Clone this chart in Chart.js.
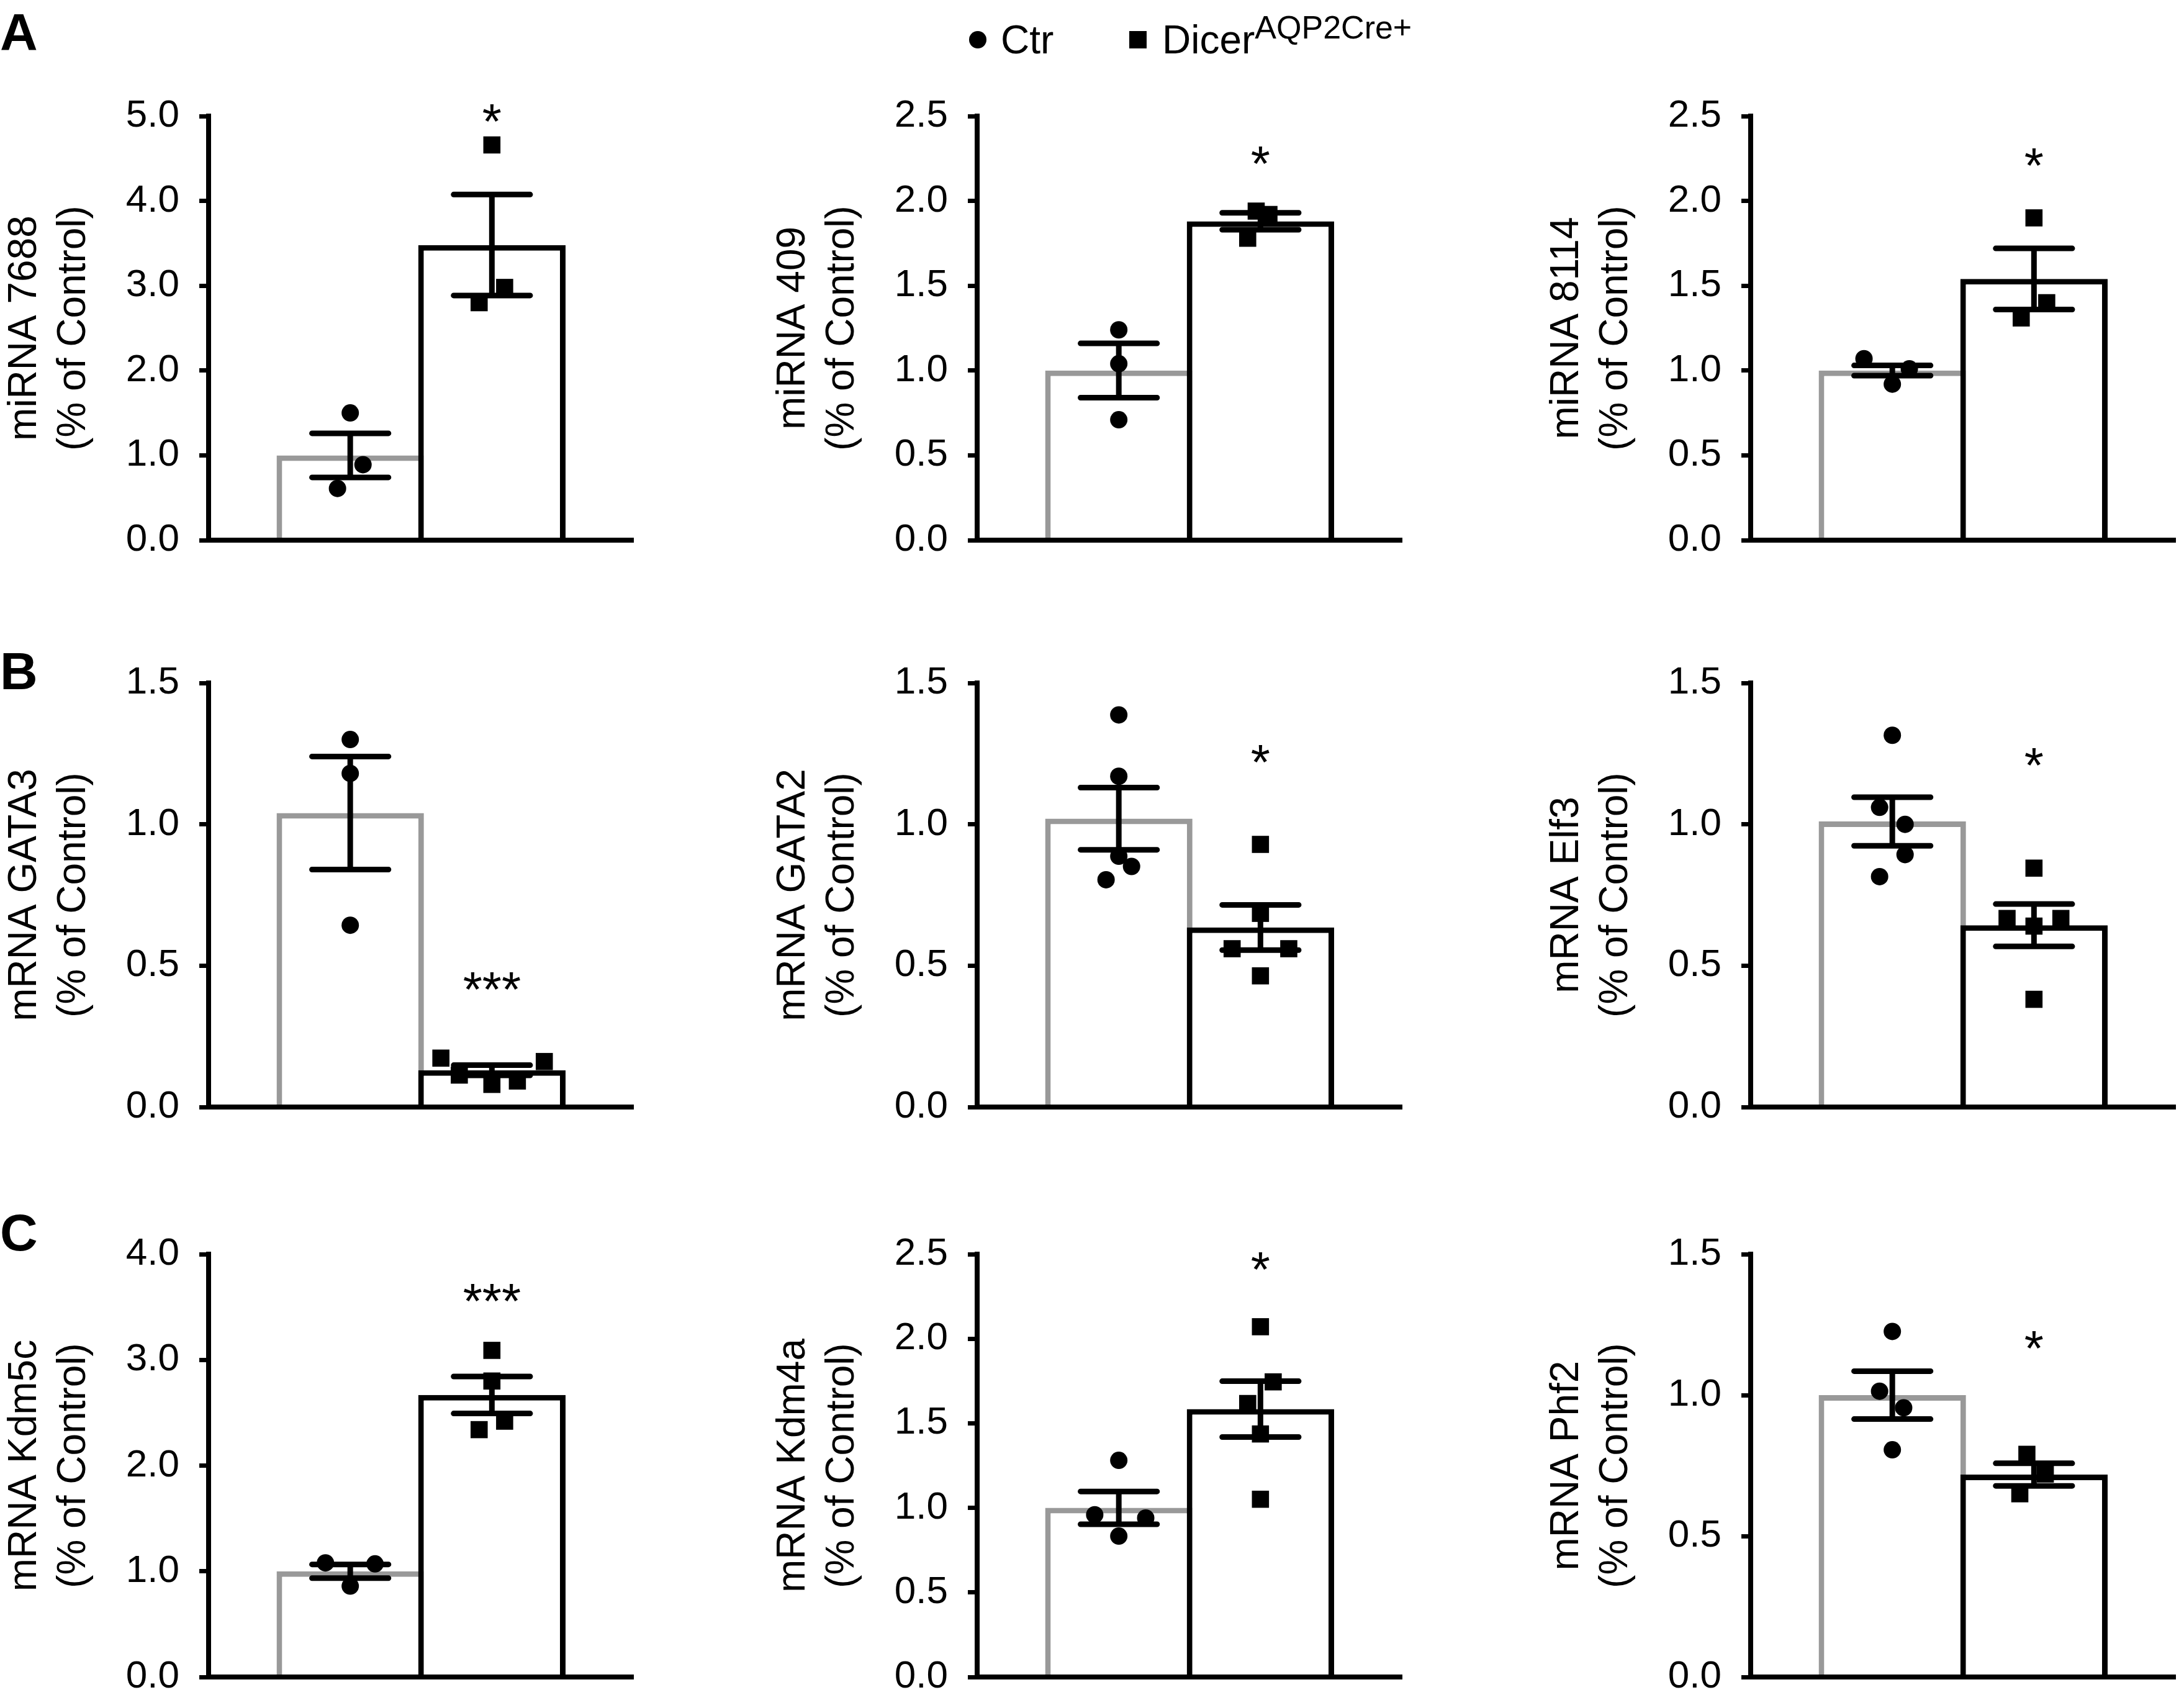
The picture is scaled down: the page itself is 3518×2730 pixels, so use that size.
<!DOCTYPE html>
<html>
<head>
<meta charset="utf-8">
<script src="https://cdn.jsdelivr.net/npm/chart.js@4.4.1/dist/chart.umd.min.js"></script>
<style>
  html, body { margin:0; padding:0; background:#fff; overflow:hidden; }
  body { width:3518px; height:2730px; position:relative; color:#000;
         font-family:'Liberation Sans', Arial, Helvetica, sans-serif; }
  canvas { position:absolute; }
  .letter { position:absolute; font-weight:bold; font-size:84px; line-height:84px; }
  .leg { position:absolute; font-size:64px; line-height:64px; white-space:nowrap; }
  .leg sup { font-size:52px; vertical-align:24px; line-height:0; }
  .mark { position:absolute; width:28px; height:28px; background:#000; }
</style>
</head>
<body>
<div class="letter" style="left:0;top:10px">A</div>
<div class="letter" style="left:0;top:1039px">B</div>
<div class="letter" style="left:0;top:1943px">C</div>

<div class="mark" style="left:1561px;top:50px;border-radius:50%"></div>
<div class="leg" style="left:1612px;top:32px">Ctr</div>
<div class="mark" style="left:1819px;top:50px"></div>
<div class="leg" style="left:1872px;top:32px">Dicer<sup>AQP2Cre+</sup></div>

<script>
// values, one entry per panel (A1..A3, B1..B3, C1..C3)
const panelNames = ['miRNA 7688', 'miRNA 409', 'miRNA 8114',
                    'mRNA GATA3', 'mRNA GATA2', 'mRNA Elf3',
                    'mRNA Kdm5c', 'mRNA Kdm4a', 'mRNA Phf2'];
const groups = ['Ctr', 'DicerAQP2Cre+'];
const yMax  = [5, 2.5, 2.5, 1.5, 1.5, 1.5, 4, 2.5, 1.5];
const yStep = [1, 0.5, 0.5, 0.5, 0.5, 0.5, 1, 0.5, 0.5];

const ctrMean   = [1.00, 1.00, 1.00, 1.04, 1.02, 1.01, 1.00, 1.00, 1.00];
const ctrSem    = [0.26, 0.16, 0.03, 0.20, 0.11, 0.086, 0.065, 0.097, 0.085];
const dicerMean = [3.48, 1.88, 1.54, 0.13, 0.635, 0.643, 2.668, 1.584, 0.718];
const dicerSem  = [0.595, 0.05, 0.18, 0.018, 0.08, 0.075, 0.175, 0.165, 0.04];

const ctrPoints = [
  [1.50, 0.89, 0.61], [1.24, 1.04, 0.71], [1.07, 1.01, 0.92],
  [1.30, 1.18, 0.643], [1.387, 1.17, 0.887, 0.851, 0.804], [1.315, 1.06, 1.0, 0.893, 0.815],
  [1.08, 1.07, 0.86], [1.281, 0.959, 0.94, 0.833], [1.226, 1.014, 0.955, 0.806]
];
const ctrJitter = [
  [0, 0.09, -0.09], [0, 0, 0], [-0.2, 0.12, 0],
  [0, 0, 0], [0, 0, 0, 0.09, -0.09], [0, -0.09, 0.09, 0.09, -0.09],
  [-0.175, 0.175, 0], [0, -0.17, 0.19, 0], [0, -0.09, 0.08, 0]
];
const dicerPoints = [
  [4.66, 2.98, 2.80], [1.94, 1.92, 1.78], [1.90, 1.40, 1.31],
  [0.173, 0.113, 0.08, 0.092, 0.161], [0.929, 0.685, 0.56, 0.56, 0.464], [0.845, 0.667, 0.667, 0.64, 0.381],
  [3.09, 2.80, 2.42, 2.34], [2.071, 1.745, 1.617, 1.437, 1.051], [0.79, 0.72, 0.65]
];
const dicerJitter = [
  [0, 0.09, -0.09], [-0.03, 0.06, -0.09], [0, 0.09, -0.09],
  [-0.36, -0.23, 0, 0.18, 0.37], [0, 0, -0.2, 0.2, 0], [0, -0.19, 0.19, 0, 0],
  [0, 0, 0.09, -0.09], [0, 0.09, -0.09, 0, 0], [-0.05, 0.08, -0.1]
];
const sigLabels = ['*', '*', '*', '***', '*', '*', '***', '*', '*'];
const sigY      = [5.02, 2.26, 2.25, 0.44, 1.244, 1.232, 3.62, 2.45, 1.19];

// page layout (pixels)
const colX = [336, 1574, 2820];
const rowTop = [187, 1100, 2020];
const rowBottom = [870, 1783, 2701];
const PLOT_W = 690, AXIS_W = 340, PAD_T = 72, PAD_B = 72, PAD_R = 14;
const FONT = "'Liberation Sans', Arial, Helvetica, sans-serif";

// sem error bars + significance stars, drawn through the chart scales
function overlay(i){
    return {
        id: 'overlay' + i,
        afterDatasetsDraw(chart){
            const {ctx, scales: {x, y}} = chart;
            const means = [ctrMean[i], dicerMean[i]];
            const sems = [ctrSem[i], dicerSem[i]];
            ctx.save();
            ctx.strokeStyle = '#000';
            ctx.lineWidth = 9;
            ctx.lineCap = 'round';
            means.forEach((m, g) => {
                const cx = x.getPixelForValue(g);
                const yt = y.getPixelForValue(m + sems[g]);
                const yb = y.getPixelForValue(m - sems[g]);
                const xl = x.getPixelForValue(g - 0.27), xr = x.getPixelForValue(g + 0.27);
                ctx.beginPath();
                ctx.moveTo(cx, yt); ctx.lineTo(cx, yb);
                ctx.moveTo(xl, yt); ctx.lineTo(xr, yt);
                ctx.moveTo(xl, yb); ctx.lineTo(xr, yb);
                ctx.stroke();
            });
            ctx.font = '80px ' + FONT;
            ctx.fillStyle = '#000';
            ctx.textAlign = 'center';
            ctx.textBaseline = 'alphabetic';
            ctx.fillText(sigLabels[i], x.getPixelForValue(1), y.getPixelForValue(sigY[i]) + 0.48 * 80);
            ctx.restore();
        }
    };
}

panelNames.forEach((name, i) => {
    const col = i % 3, row = Math.floor(i / 3);
    const w = AXIS_W + PLOT_W + PAD_R;
    const h = rowBottom[row] - rowTop[row] + PAD_T + PAD_B;
    const cv = document.createElement('canvas');
    cv.width = w; cv.height = h;
    cv.style.width = w + 'px'; cv.style.height = h + 'px';
    cv.style.left = (colX[col] - AXIS_W) + 'px';
    cv.style.top = (rowTop[row] - PAD_T) + 'px';
    document.body.appendChild(cv);

    new Chart(cv, {
        type: 'bar',
        data: {
            datasets: [
                { type: 'scatter', label: groups[0],
                  data: ctrPoints[i].map((v, k) => ({x: 0 + ctrJitter[i][k], y: v})),
                  pointStyle: 'circle', pointRadius: 14, backgroundColor: '#000',
                  borderWidth: 0, order: 1, clip: false },
                { type: 'scatter', label: groups[1],
                  data: dicerPoints[i].map((v, k) => ({x: 1 + dicerJitter[i][k], y: v})),
                  pointStyle: 'rect', pointRadius: 19.5, backgroundColor: '#000',
                  borderWidth: 0, order: 1, clip: false },
                { type: 'bar', label: 'mean',
                  data: [{x: 0, y: ctrMean[i]}, {x: 1, y: dicerMean[i]}],
                  backgroundColor: '#fff', borderColor: ['#999999', '#000'], borderWidth: 9,
                  barPercentage: 1.04, categoryPercentage: 1, order: 2 }
            ]
        },
        options: {
            responsive: false,
            devicePixelRatio: 1,
            animation: false,
            events: [],
            layout: { padding: { top: PAD_T, bottom: PAD_B, left: 0, right: PAD_R } },
            plugins: { legend: { display: false }, tooltip: { enabled: false } },
            scales: {
                x: {
                    type: 'linear', min: -1, max: 2, offset: false,
                    ticks: { display: false, stepSize: 1 },
                    grid: { display: false },
                    border: { display: true, color: '#000', width: 8, z: 1 },
                    afterFit: s => { s.height = 0; }
                },
                y: {
                    min: 0, max: yMax[i],
                    ticks: { stepSize: yStep[i], color: '#000', padding: 32,
                             font: { family: FONT, size: 62 },
                             callback: v => v.toFixed(1) },
                    grid: { display: true, drawOnChartArea: false, drawTicks: true,
                            tickLength: 15, tickWidth: 7, tickColor: '#000' },
                    border: { display: true, color: '#000', width: 8, z: 1 },
                    title: { display: true, text: [name, '(% of Control)'], color: '#000',
                             font: { family: FONT, size: 64, lineHeight: 1.23 },
                             padding: { top: 5, bottom: 0 } },
                    afterFit: s => { s.width = AXIS_W; }
                }
            }
        },
        plugins: [overlay(i)]
    });
});
</script>
</body>
</html>
